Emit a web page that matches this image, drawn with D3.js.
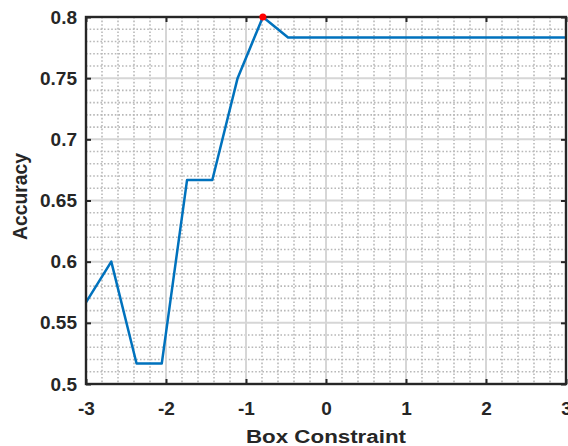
<!DOCTYPE html>
<html>
<head>
<meta charset="utf-8">
<script src="https://cdn.jsdelivr.net/npm/d3@7"></script>
<style>
  html, body { margin: 0; padding: 0; background: #fff; }
  svg { display: block; }
  text { font-family: "Liberation Sans", Arial, Helvetica, sans-serif; font-weight: bold; fill: #262626; }
</style>
</head>
<body>
<svg id="chart" width="568" height="446"></svg>
<script>
// log10(Box Constraint) grid searched by the classifier
const boxConstraint = [-3, -2.684, -2.368, -2.053, -1.737, -1.421, -1.105, -0.789, -0.474, -0.158,
                       0.158, 0.474, 0.789, 1.105, 1.421, 1.737, 2.053, 2.368, 2.684, 3];
// cross-validated accuracy for each value
const accuracy = [0.5667, 0.6, 0.5167, 0.5167, 0.6667, 0.6667, 0.75, 0.8, 0.7833, 0.7833,
                  0.7833, 0.7833, 0.7833, 0.7833, 0.7833, 0.7833, 0.7833, 0.7833, 0.7833, 0.7833];
const xTicks = [-3, -2, -1, 0, 1, 2, 3];
const yTicks = [0.5, 0.55, 0.6, 0.65, 0.7, 0.75, 0.8];
const xLabel = "Box Constraint";
const yLabel = "Accuracy";

const svg = d3.select("#chart");
const plotL = 86, plotR = 566, plotT = 17, plotB = 384;

const x = d3.scaleLinear().domain([-3, 3]).range([plotL, plotR]);
const y = d3.scaleLinear().domain([0.5, 0.8]).range([plotB, plotT]);

// minor grid (dotted)
const xMinor = d3.range(-3, 3.0001, 0.2).filter(v => Math.abs(v - Math.round(v)) > 1e-6);
const yMinor = d3.range(0.5, 0.8001, 0.01).filter(v => Math.abs(v * 20 - Math.round(v * 20)) > 1e-6);
const grid = svg.append("g");
grid.selectAll("line.xm").data(xMinor).join("line")
  .attr("x1", d => x(d)).attr("x2", d => x(d)).attr("y1", plotT).attr("y2", plotB)
  .attr("stroke", "#b8b8b8").attr("stroke-width", 1.6).attr("stroke-dasharray", "1.6,2");
grid.selectAll("line.ym").data(yMinor).join("line")
  .attr("y1", d => y(d)).attr("y2", d => y(d)).attr("x1", plotL).attr("x2", plotR)
  .attr("stroke", "#b8b8b8").attr("stroke-width", 1.6).attr("stroke-dasharray", "1.6,2");

// major grid (solid)
grid.selectAll("line.xg").data(xTicks.slice(1, -1)).join("line")
  .attr("x1", d => x(d)).attr("x2", d => x(d)).attr("y1", plotT).attr("y2", plotB)
  .attr("stroke", "#d6d6d6").attr("stroke-width", 2);
grid.selectAll("line.yg").data(yTicks.slice(1, -1)).join("line")
  .attr("y1", d => y(d)).attr("y2", d => y(d)).attr("x1", plotL).attr("x2", plotR)
  .attr("stroke", "#d6d6d6").attr("stroke-width", 2);

// accuracy curve
const pts = boxConstraint.map((b, i) => [b, accuracy[i]]);
svg.append("path")
  .datum(pts)
  .attr("fill", "none")
  .attr("stroke", "#0072BD")
  .attr("stroke-width", 2.5)
  .attr("stroke-linejoin", "round")
  .attr("d", d3.line().x(d => x(d[0])).y(d => y(d[1])));

// axes box with inward ticks on all sides
const tickLen = 5;
const axisStyle = g => {
  g.select(".domain").remove();
  g.selectAll(".tick line").attr("stroke", "#262626").attr("stroke-width", 2);
  g.selectAll(".tick text").style("font-size", "19px").attr("fill", "#262626");
};
svg.append("g").attr("transform", `translate(0,${plotB})`)
  .call(d3.axisBottom(x).tickValues(xTicks).tickFormat(d => String(d)).tickSizeInner(-tickLen).tickSizeOuter(0).tickPadding(18))
  .call(axisStyle);
svg.append("g").attr("transform", `translate(0,${plotT})`)
  .call(d3.axisTop(x).tickValues(xTicks).tickFormat("").tickSizeInner(-tickLen).tickSizeOuter(0))
  .call(axisStyle);
svg.append("g").attr("transform", `translate(${plotL},0)`)
  .call(d3.axisLeft(y).tickValues(yTicks).tickFormat(d => String(+d.toFixed(2))).tickSizeInner(-tickLen).tickSizeOuter(0).tickPadding(9))
  .call(axisStyle);
svg.append("g").attr("transform", `translate(${plotR},0)`)
  .call(d3.axisRight(y).tickValues(yTicks).tickFormat("").tickSizeInner(-tickLen).tickSizeOuter(0))
  .call(axisStyle);

svg.append("rect")
  .attr("x", plotL).attr("y", plotT).attr("width", plotR - plotL).attr("height", plotB - plotT)
  .attr("fill", "none").attr("stroke", "#262626").attr("stroke-width", 2.4);

// best accuracy marker
const best = d3.maxIndex(accuracy);
svg.append("circle")
  .attr("cx", x(boxConstraint[best])).attr("cy", y(accuracy[best]))
  .attr("r", 3.5).attr("fill", "#ff0000");

// axis titles
svg.append("text")
  .attr("x", (plotL + plotR) / 2).attr("y", 443)
  .attr("text-anchor", "middle").style("font-size", "18px")
  .attr("textLength", 160).attr("lengthAdjust", "spacingAndGlyphs")
  .text(xLabel);
svg.append("text")
  .attr("transform", `translate(27,${(plotT + plotB) / 2 - 4}) rotate(-90)`)
  .attr("text-anchor", "middle").style("font-size", "19.5px")
  .attr("textLength", 87).attr("lengthAdjust", "spacingAndGlyphs")
  .text(yLabel);
</script>
</body>
</html>
